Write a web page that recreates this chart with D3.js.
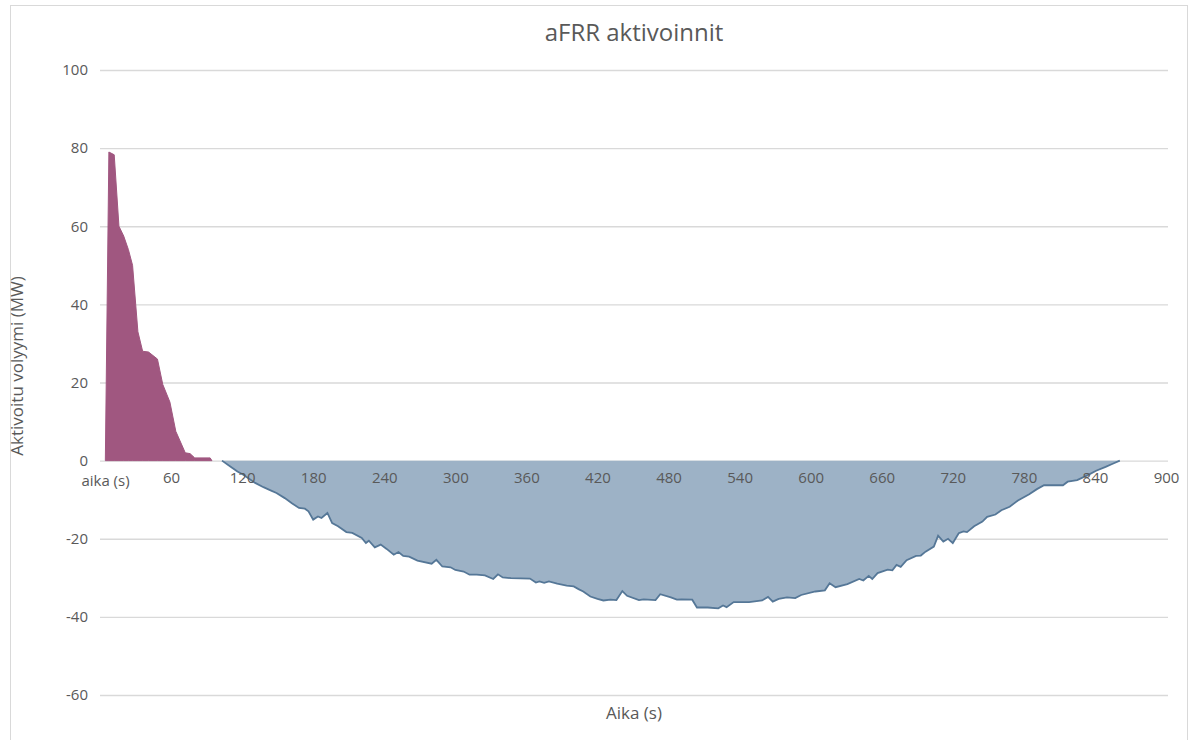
<!DOCTYPE html>
<html>
<head>
<meta charset="utf-8">
<script src="https://cdn.jsdelivr.net/npm/d3@7"></script>
<style>
	body { margin: 0; background: #fff; }
	svg text { font-family: 'Open Sans', 'Liberation Sans', sans-serif; fill: #595959; }
</style>
</head>
<body>
<svg id="chart"></svg>
<script>
/*=================
=== The data
=================*/
var xTicks = [0, 60, 120, 180, 240, 300, 360, 420, 480, 540, 600, 660, 720, 780, 840, 900];
var yTicks = [-60, -40, -20, 0, 20, 40, 60, 80, 100];

// ylös-säätö (pink)
var upTime  = [4.5, 7.5, 12, 16, 20, 24, 27.5, 32, 36, 41, 48.5, 53, 59, 64, 72, 76, 80, 93, 94.5];
var upValue = [0, 79, 78.3, 60, 57.5, 54, 50, 33, 28, 27.8, 26, 19.5, 15, 7.5, 2, 1.8, 0.7, 0.7, 0];

// alas-säätö (blue)
var downTime = [103, 110, 116, 121, 131, 138, 144, 149, 156, 162, 168, 173, 176, 180, 184, 187, 192, 196,
	201, 208, 213, 221, 224.5, 227, 232, 237, 242, 248, 252, 256, 261, 268, 280, 284, 289, 296, 300,
	307, 312, 318, 325, 332, 336, 340, 347, 363, 368, 371, 375, 379, 386, 394, 400, 404, 408, 414,
	420, 425, 431, 436, 441, 445, 455, 459, 469, 473, 482, 487, 491, 500, 504, 513, 522, 526, 529,
	535, 548, 559, 564, 568, 573, 580, 587, 592, 604, 612, 616, 621, 631, 641, 644.5, 649, 652,
	656.5, 665, 669, 672.5, 676, 681, 689, 693, 697, 704, 707.6, 712, 716, 720, 725, 729, 732, 738,
	745, 749, 756, 761, 768, 775, 784.5, 791, 797, 813, 817, 825, 834, 841, 849, 855, 861];
var downValue = [0, -1.5, -2.8, -3.6, -5.7, -6.8, -7.6, -8.3, -9.6, -10.9, -12.1, -12.3, -13, -15.1, -14.3, -14.7, -13.4, -16,
	-16.8, -18.3, -18.5, -19.8, -21.1, -20.5, -22.2, -21.5, -22.6, -24.1, -23.4, -24.4, -24.6, -25.6, -26.4, -25.4, -27.1, -27.3, -28,
	-28.4, -29.2, -29.2, -29.4, -30.3, -29.1, -29.9, -30.1, -30.2, -31.2, -30.9, -31.3, -30.9, -31.5, -32, -32.2, -32.9, -33.5, -34.8,
	-35.4, -35.8, -35.6, -35.7, -33.4, -34.6, -35.7, -35.5, -35.7, -34.2, -35, -35.6, -35.5, -35.6, -37.6, -37.6, -37.8, -37.1, -37.5,
	-36.2, -36.2, -35.8, -34.9, -36.1, -35.4, -35, -35.2, -34.4, -33.5, -33.2, -31.4, -32.4, -31.6, -30.3, -30.7, -29.5, -30.3,
	-28.8, -27.9, -28.1, -26.7, -27.2, -25.5, -24.4, -24.3, -23.3, -22, -19.2, -20.7, -20, -21.1, -18.6, -18.1, -18.3, -16.8,
	-15.6, -14.4, -13.8, -12.7, -11.8, -10.2, -8.6, -7.3, -6.3, -6.3, -5.4, -5, -3.7, -2.6, -1.6, -0.8, 0];

/*=================
=== The vars
=================*/
var width = 1189, height = 740;
var svg = d3.select('#chart').attr('width', width).attr('height', height);

var x = d3.scaleLinear().domain([0, 900]).range([100, 1166]);
var y = d3.scaleLinear().domain([-60, 100]).range([695, 70]);

var upData = upTime.map(function (t, i) { return { t: t, v: upValue[i] }; });
var downData = downTime.map(function (t, i) { return { t: t, v: downValue[i] }; });

var myArea = d3.area()
	.x(function (d) { return x(d.t); })
	.y0(y(0))
	.y1(function (d) { return y(d.v); });

var myLine = d3.line()
	.x(function (d) { return x(d.t); })
	.y(function (d) { return y(d.v); });

// frame
svg.append('rect')
	.attr('x', 10.5).attr('y', 5.5)
	.attr('width', 1177).attr('height', 760)
	.attr('fill', 'none')
	.attr('stroke', '#d9d9d9');

// title
svg.append('text')
	.attr('x', 634).attr('y', 41)
	.attr('text-anchor', 'middle')
	.style('font-size', '24px')
	.text('aFRR aktivoinnit');

// gridlines + y labels
var yAxis = d3.axisLeft(y)
	.tickValues(yTicks)
	.tickSize(-(1168 - 100))
	.tickPadding(12)
	.tickFormat(String);

var gy = svg.append('g')
	.attr('transform', 'translate(100,0)')
	.call(yAxis);
gy.select('.domain').remove();
gy.selectAll('.tick line').attr('stroke', '#d9d9d9').attr('stroke-width', 1.3);
gy.selectAll('.tick text').style('font-size', '15px').attr('fill', '#595959');

// areas
svg.append('path')
	.datum(downData)
	.attr('d', myArea)
	.attr('fill', '#9db2c6');
svg.append('path')
	.datum(downData)
	.attr('d', myLine)
	.attr('fill', 'none')
	.attr('stroke', '#557797')
	.attr('stroke-width', 1.8);

svg.append('path')
	.datum(upData)
	.attr('d', myArea)
	.attr('fill', '#a05780')
	.attr('stroke', '#a05780')
	.attr('stroke-width', 1);

// x axis labels (on the zero line)
var xAxis = d3.axisBottom(x)
	.tickValues(xTicks)
	.tickSize(0)
	.tickPadding(12)
	.tickFormat(function (d) { return d === 0 ? 'aika (s)' : d; });

var gx = svg.append('g')
	.attr('transform', 'translate(0,' + y(0) + ')')
	.call(xAxis);
gx.select('.domain').remove();
gx.selectAll('.tick text').style('font-size', '15px').attr('fill', '#595959');
gx.selectAll('.tick text').filter(function (d) { return d === 0; })
	.attr('x', 5)
	.attr('y', 15);

// axis titles
svg.append('text')
	.attr('transform', 'translate(23,366) rotate(-90)')
	.attr('text-anchor', 'middle')
	.style('font-size', '17px')
	.text('Aktivoitu volyymi (MW)');

svg.append('text')
	.attr('x', 634).attr('y', 719)
	.attr('text-anchor', 'middle')
	.style('font-size', '17px')
	.text('Aika (s)');
</script>
</body>
</html>
